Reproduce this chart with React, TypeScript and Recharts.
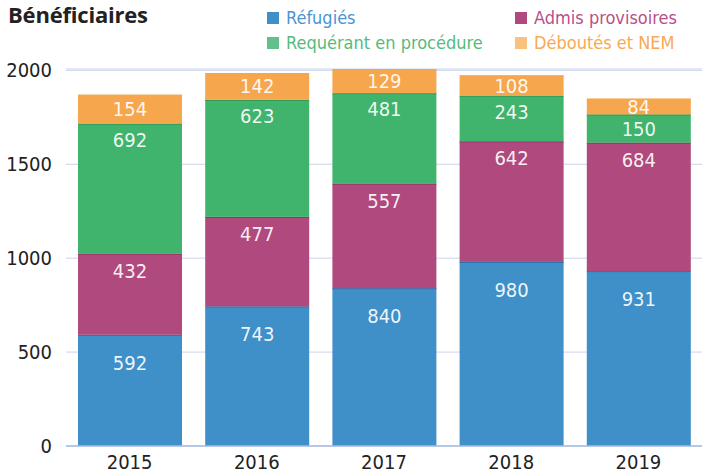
import { Bar, BarChart, CartesianGrid, LabelList, XAxis, YAxis } from "recharts";

const years = ["2015", "2016", "2017", "2018", "2019"];
const refugies = [592, 743, 840, 980, 931];
const admis = [432, 477, 557, 642, 684];
const requerants = [692, 623, 481, 243, 150];
const deboutes = [154, 142, 129, 108, 84];
const yTicks = [0, 500, 1000, 1500, 2000];

const FONT = "'Liberation Sans Narrow', 'DejaVu Sans Condensed', sans-serif";

// labelDrop: how far below a segment's top edge its value sits (capped at half the segment)
const series = [
  { key: "refugies", name: "Réfugiés", color: "#3f8fc9", edge: "#2f6fae", text: "#4a94d2", swatch: "#3f8fc9", labelDrop: 28 },
  { key: "admis", name: "Admis provisoires", color: "#b04a7e", edge: "#8e3463", text: "#b8508a", swatch: "#b04a7e", labelDrop: 17 },
  { key: "requerants", name: "Requérant en procédure", color: "#40b36c", edge: "#2f9655", text: "#55bb7c", swatch: "#62c08a", labelDrop: 16 },
  { key: "deboutes", name: "Déboutés et NEM", color: "#f6a64c", edge: "#f6a64c", text: "#f8a955", swatch: "#f9c07f", labelDrop: 99 },
];

const data = years.map((year, i) => ({
  year,
  refugies: refugies[i],
  admis: admis[i],
  requerants: requerants[i],
  deboutes: deboutes[i],
}));

// two-column legend: left column Réfugiés / Requérant, right column Admis / Déboutés
function LegendBlock() {
  return (
    <div
      style={{
        position: "absolute",
        left: 267,
        top: 6,
        display: "grid",
        gridTemplateColumns: "248px 200px",
        rowGap: 2,
        fontFamily: FONT,
        fontSize: 18,
        lineHeight: "23px",
      }}
    >
      {series.map((s) => (
        <div key={s.key} style={{ display: "flex", alignItems: "center", color: s.text }}>
          <span
            style={{ width: 12, height: 12, background: s.swatch, display: "inline-block", marginRight: 7 }}
          />
          {s.name}
        </div>
      ))}
    </div>
  );
}

// segment with a slightly darker line along its top edge
function segmentShape(fill: string, edge: string) {
  return (props: any) => {
    const { x, y, width, height } = props;
    if (!height || height <= 0) return <g />;
    return (
      <g>
        <rect x={x} y={y} width={width} height={height} fill={fill} />
        <line x1={x} x2={x + width} y1={y + 0.5} y2={y + 0.5} stroke={edge} strokeWidth={1} />
      </g>
    );
  };
}

function valueLabel(drop: number) {
  return (props: any) => {
    const { x, y, width, height, value } = props;
    const cy = y + Math.min(height / 2, drop);
    return (
      <text
        x={x + width / 2}
        y={cy}
        textAnchor="middle"
        dominantBaseline="central"
        fill="#fff"
        fillOpacity={0.93}
        fontSize={20}
        fontFamily={FONT}
      >
        {value}
      </text>
    );
  };
}

export default function App() {
  return (
    <div style={{ position: "absolute", left: 0, top: 0, width: 702, height: 475, background: "#fff" }}>
      <BarChart
        width={702}
        height={475}
        data={data}
        margin={{ top: 69, right: 0, bottom: 0, left: 0 }}
        barSize={104}
      >
        <XAxis
          dataKey="year"
          height={29}
          tickLine={false}
          axisLine={{ stroke: "#a6bde3", strokeWidth: 1.5 }}
          tick={{ fill: "#222", fontSize: 20, fontFamily: FONT }}
          tickMargin={3}
        />
        <YAxis
          width={66}
          domain={[0, 2000]}
          ticks={yTicks}
          axisLine={false}
          tickLine={false}
          tick={{ fill: "#222", fontSize: 20, fontFamily: FONT }}
          tickMargin={8}
        />
        {series.map((s) => (
          <Bar
            key={s.key}
            dataKey={s.key}
            name={s.name}
            stackId="a"
            fill={s.color}
            shape={segmentShape(s.color, s.edge)}
            isAnimationActive={false}
          >
            <LabelList dataKey={s.key} content={valueLabel(s.labelDrop)} />
          </Bar>
        ))}
        <CartesianGrid vertical={false} stroke="#b9c6e2" strokeOpacity={0.75} />
      </BarChart>
      <div
        style={{
          position: "absolute",
          left: 8,
          top: -1,
          fontFamily: "'Open Sans', 'DejaVu Sans', sans-serif",
          fontWeight: 700,
          fontSize: 22,
          color: "#222",
          letterSpacing: -0.2,
        }}
      >
        Bénéficiaires
      </div>
      <LegendBlock />
    </div>
  );
}
